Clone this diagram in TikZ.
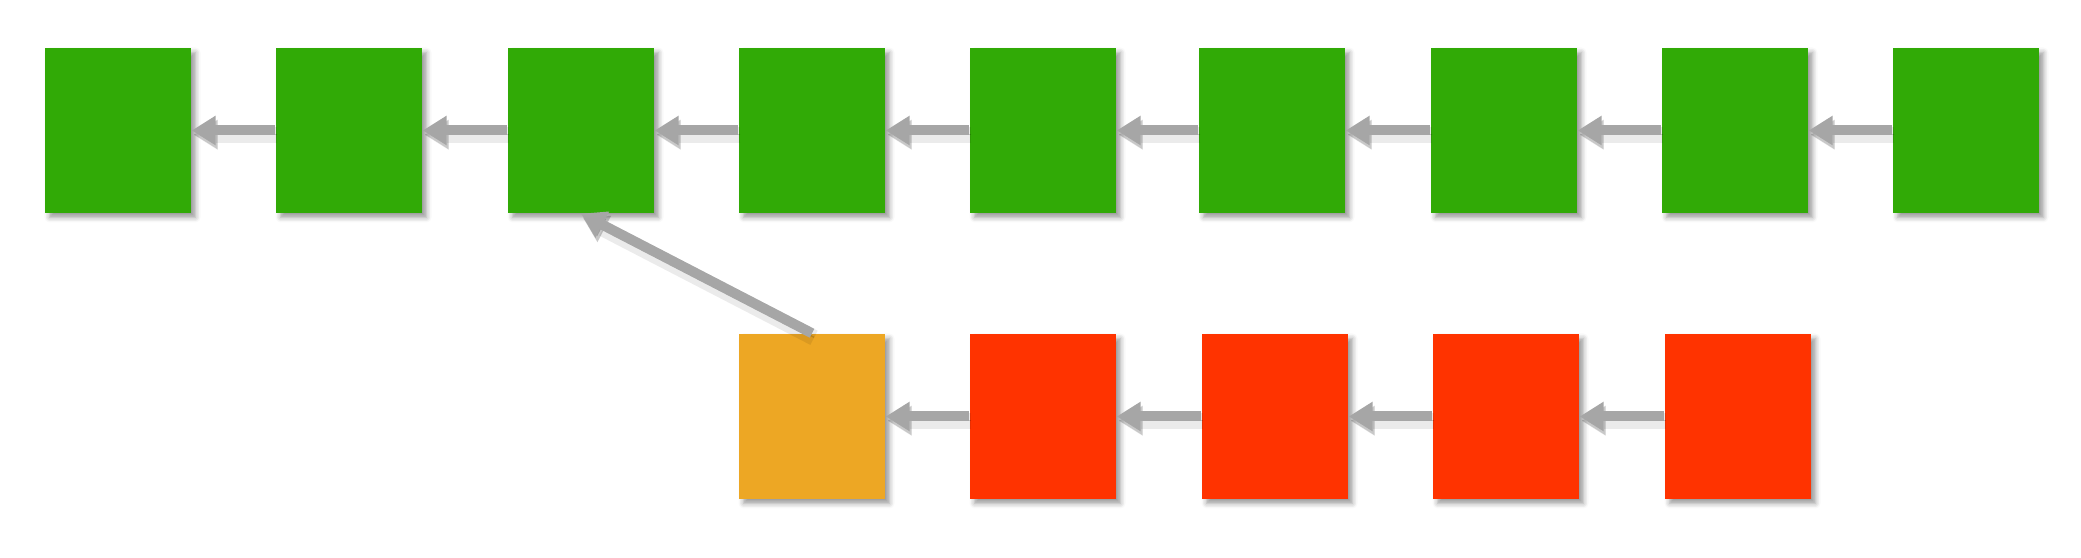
\documentclass[tikz,border=0pt]{standalone}
\usetikzlibrary{arrows.meta,shadows.blur}
\definecolor{chaingreen}{RGB}{49,170,6}
\definecolor{forkorange}{RGB}{237,167,36}
\definecolor{forkred}{RGB}{255,51,0}
\definecolor{linkgray}{RGB}{166,166,166}
\tikzset{
  blockbox/.style={minimum width=1.46cm,minimum height=1.65cm,inner sep=0pt,
    blur shadow={shadow xshift=0.045cm,shadow yshift=-0.045cm,shadow blur radius=0.05cm,shadow opacity=40}},
  link/.style={draw=linkgray,line width=0.1cm,-{Triangle[length=0.24cm,width=0.28cm]},
    preaction={draw=black,opacity=0.08,line width=0.16cm,transform canvas={xshift=0.02cm,yshift=-0.045cm}},
    preaction={draw=black,opacity=0.15,transform canvas={xshift=0.02cm,yshift=-0.04cm}}}
}
\begin{document}
\begin{tikzpicture}
      \useasboundingbox (0,0) rectangle (20.81,5.58);
      \begin{scope}
        \node[blockbox,fill=chaingreen] (c1) at (1.18,4.275) {};
        \node[blockbox,fill=chaingreen] (c2) at (3.49,4.275) {};
        \node[blockbox,fill=chaingreen] (c3) at (5.81,4.275) {};
        \node[blockbox,fill=chaingreen] (c4) at (8.12,4.275) {};
        \node[blockbox,fill=chaingreen] (c5) at (10.43,4.275) {};
        \node[blockbox,fill=chaingreen] (c6) at (12.72,4.275) {};
        \node[blockbox,fill=chaingreen] (c7) at (15.04,4.275) {};
        \node[blockbox,fill=chaingreen] (c8) at (17.35,4.275) {};
        \node[blockbox,fill=chaingreen] (c9) at (19.66,4.275) {};

        \draw[link] (c2.west) -- (c1.east);
        \draw[link] (c3.west) -- (c2.east);
        \draw[link] (c4.west) -- (c3.east);
        \draw[link] (c5.west) -- (c4.east);
        \draw[link] (c6.west) -- (c5.east);
        \draw[link] (c7.west) -- (c6.east);
        \draw[link] (c8.west) -- (c7.east);
        \draw[link] (c9.west) -- (c8.east);
      \end{scope}
      \begin{scope}
        \node[blockbox,fill=forkorange] (s0) at (8.12,1.415) {};
        \node[blockbox,fill=forkred] (s1) at (10.43,1.415) {};
        \node[blockbox,fill=forkred] (s2) at (12.75,1.415) {};
        \node[blockbox,fill=forkred] (s3) at (15.06,1.415) {};
        \node[blockbox,fill=forkred] (s4) at (17.38,1.415) {};

        \draw[link] (s1.west) -- (s0.east);
        \draw[link] (s2.west) -- (s1.east);
        \draw[link] (s3.west) -- (s2.east);
        \draw[link] (s4.west) -- (s3.east);

        \draw[link] (s0.north) -- (c3.south);
      \end{scope}
    \end{tikzpicture}
\end{document}
